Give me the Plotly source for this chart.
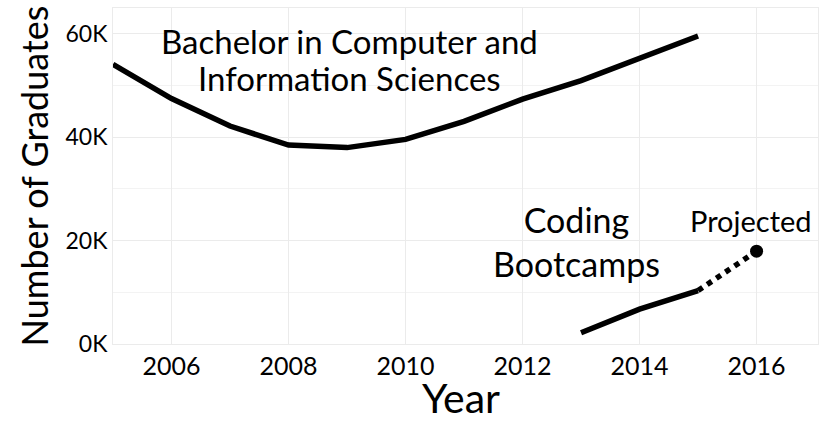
import plotly.graph_objects as go

years_bach = [2005, 2006, 2007, 2008, 2009, 2010, 2011, 2012, 2013, 2014, 2015]
bachelor = [54111, 47480, 42170, 38476, 37994, 39589, 43066, 47384, 50962, 55367, 59581]

years_boot = [2013, 2014, 2015]
bootcamps = [2178, 6740, 10333]

years_proj = [2015, 2016]
projected = [10333, 17966]

y_ticks = [0, 20000, 40000, 60000]
y_tick_labels = ["0K", "20K", "40K", "60K"]
x_ticks = [2006, 2008, 2010, 2012, 2014, 2016]

FONT = "Lato"
fig = go.Figure()
fig.add_trace(go.Scatter(x=years_bach, y=bachelor, mode="lines",
                         line=dict(color="black", width=5.5), showlegend=False))
fig.add_trace(go.Scatter(x=years_boot, y=bootcamps, mode="lines",
                         line=dict(color="black", width=5.5), showlegend=False))
fig.add_trace(go.Scatter(x=years_proj, y=projected, mode="lines",
                         line=dict(color="black", width=5.5, dash="dot"), showlegend=False))
fig.add_trace(go.Scatter(x=[years_proj[-1]], y=[projected[-1]], mode="markers",
                         marker=dict(color="black", size=13), showlegend=False))

fig.add_annotation(x=2009.05, y=58700, text="Bachelor in Computer and",
                   showarrow=False, font=dict(family=FONT, size=33, color="black"),
                   xanchor="center", yanchor="middle")
fig.add_annotation(x=2009.05, y=51500, text="Information Sciences",
                   showarrow=False, font=dict(family=FONT, size=33, color="black"),
                   xanchor="center", yanchor="middle")
fig.add_annotation(x=2012.92, y=19800, text="Coding<br>Bootcamps",
                   showarrow=False, font=dict(family=FONT, size=34, color="black"),
                   xanchor="center", yanchor="middle", align="center")
fig.add_annotation(x=2015.9, y=23800, text="Projected",
                   showarrow=False, font=dict(family=FONT, size=29, color="black"),
                   xanchor="center", yanchor="middle")
# x-axis title
fig.add_annotation(xref="paper", yref="paper", x=0.4936, y=-0.16, text="Year",
                   showarrow=False, font=dict(family=FONT, size=41, color="black"),
                   xanchor="center", yanchor="middle")

grid = "#ebebeb"
fig.update_layout(
    width=827, height=422,
    margin=dict(l=113, r=9, t=8, b=78),
    plot_bgcolor="white", paper_bgcolor="white",
    font=dict(family=FONT, color="black"),
    xaxis=dict(range=[2005, 2017.05], tickvals=x_ticks, ticks="", automargin=False,
               tickfont=dict(size=25, color="black"), showgrid=True, gridcolor=grid,
               zeroline=False, showline=True, linecolor=grid, mirror=True),
    yaxis=dict(range=[0, 65000], tickvals=y_ticks, ticktext=y_tick_labels, ticks="",
               automargin=False,
               tickfont=dict(size=23, color="black"), showgrid=True, gridcolor=grid,
               minor=dict(dtick=10000, showgrid=True, gridcolor="#f3f3f3"),
               zeroline=False, showline=True, linecolor=grid, mirror=True,
               title=dict(text="Number of Graduates", font=dict(size=36), standoff=5)),
)
fig.write_html("out.html", config={"displayModeBar": False},
               post_script="document.body.style.margin='0';")
